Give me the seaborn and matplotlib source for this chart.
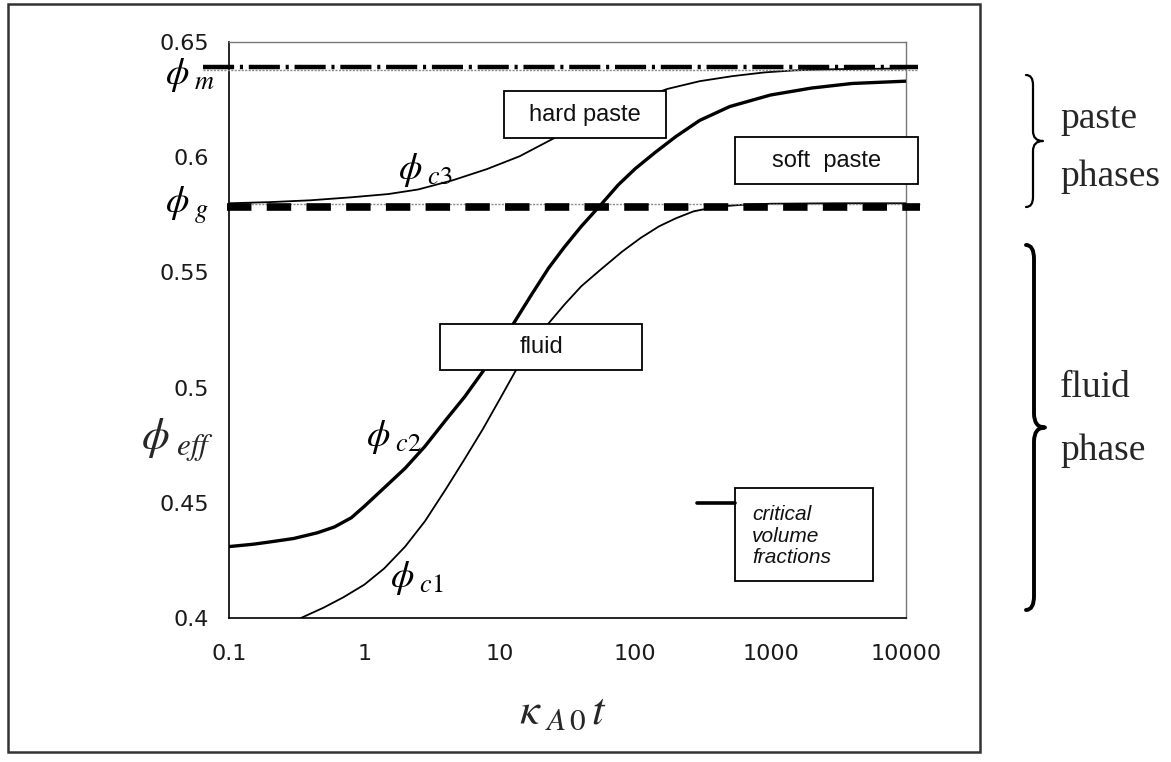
import numpy as np
import pandas as pd
import matplotlib
matplotlib.use("Agg")
import matplotlib.pyplot as plt
import seaborn as sns
from matplotlib.patches import Rectangle, PathPatch
from matplotlib.path import Path
from matplotlib.lines import Line2D

# ---------------- data ----------------
x_c1 = [0.34, 0.5, 0.7, 1, 1.4, 2, 2.8, 4, 5.5, 7.5, 10, 13, 17, 23, 30, 40, 55, 80,
        110, 150, 200, 270, 400, 600, 1000, 3000, 10000]
phi_c1 = [0.400, 0.4045, 0.409, 0.4145, 0.4215, 0.431, 0.442, 0.456, 0.469, 0.482,
          0.495, 0.507, 0.517, 0.528, 0.536, 0.544, 0.551, 0.559, 0.565, 0.570, 0.5735,
          0.5765, 0.5785, 0.5793, 0.5798, 0.580, 0.580]

x_c2 = [0.1, 0.15, 0.2, 0.3, 0.45, 0.6, 0.8, 1, 1.4, 2, 2.8, 4, 5.5, 7.5, 10, 13, 17,
        23, 30, 40, 57, 75, 100, 140, 200, 300, 500, 1000, 2000, 4000, 10000]
phi_c2 = [0.431, 0.432, 0.433, 0.4345, 0.437, 0.4395, 0.4435, 0.4485, 0.4565, 0.465,
          0.4745, 0.486, 0.496, 0.507, 0.518, 0.529, 0.540, 0.552, 0.561, 0.570, 0.580,
          0.588, 0.595, 0.602, 0.609, 0.616, 0.622, 0.627, 0.630, 0.632, 0.633]

x_c3 = [0.1, 0.2, 0.4, 0.8, 1.5, 2.5, 4.5, 8, 14, 26, 40, 60, 100, 172, 300, 525, 900,
        1500, 3000, 10000]
phi_c3 = [0.5800, 0.5805, 0.5813, 0.5826, 0.584, 0.586, 0.590, 0.5948, 0.6004, 0.6087,
          0.6135, 0.618, 0.6245, 0.6296, 0.6330, 0.6352, 0.6368, 0.6377, 0.6382, 0.6385]

phi_m = 0.638
phi_g = 0.579

x_ticks = [0.1, 1, 10, 100, 1000, 10000]
x_tick_labels = ["0.1", "1", "10", "100", "1000", "10000"]
y_ticks = [0.4, 0.45, 0.5, 0.55, 0.6, 0.65]
y_tick_labels = ["0.4", "0.45", "0.5", "0.55", "0.6", "0.65"]

region_labels = ["hard paste", "soft  paste", "fluid"]
legend_label = "critical\nvolume\nfractions"
side_labels = [("paste", "phases"), ("fluid", "phase")]

# ---------------- style ----------------
sns.set_theme(style="white")
plt.rcParams["font.family"] = ["Liberation Sans", "DejaVu Sans"]
plt.rcParams["mathtext.fontset"] = "stix"

W, H = 1171, 762
fig = plt.figure(figsize=(W / 100, H / 100), dpi=100)
fig.patch.set_facecolor("white")


def fx(px):
    return px / W


def fy(py):
    return 1 - py / H


ax = fig.add_axes([fx(229), fy(618), fx(906) - fx(229), fy(42) - fy(618)])
ax.set_facecolor("white")
ax.set_xscale("log")
ax.set_xlim(x_ticks[0], x_ticks[-1])
ax.set_ylim(y_ticks[0], y_ticks[-1])

# curves
df1 = pd.DataFrame({"t": x_c1, "phi": phi_c1})
df2 = pd.DataFrame({"t": x_c2, "phi": phi_c2})
df3 = pd.DataFrame({"t": x_c3, "phi": phi_c3})
sns.lineplot(data=df1, x="t", y="phi", ax=ax, color="black", lw=1.3,
             estimator=None, sort=False, zorder=3)
sns.lineplot(data=df3, x="t", y="phi", ax=ax, color="black", lw=1.3,
             estimator=None, sort=False, zorder=3)
sns.lineplot(data=df2, x="t", y="phi", ax=ax, color="black", lw=2.4,
             estimator=None, sort=False, zorder=3)

# critical volume fraction lines (extend slightly beyond the axes)
lx0, lx1 = ax.get_xlim()
m_ext = [lx0 * 10 ** -0.19, lx1 * 10 ** 0.09]
g_ext = [lx0 * 10 ** -0.015, lx1 * 10 ** 0.10]

sns.lineplot(x=m_ext, y=[phi_m, phi_m], ax=ax, color="#8a8a8a", lw=1.0, zorder=4)
ax.lines[-1].set_clip_on(False)
ax.lines[-1].set_linestyle((0, (1.5, 1.0)))
sns.lineplot(x=m_ext, y=[phi_m + 0.0012, phi_m + 0.0012], ax=ax, color="black", lw=3.2, zorder=4)
ax.lines[-1].set_clip_on(False)
ax.lines[-1].set_linestyle((0, (7.0, 1.3, 0.7, 1.3)))

sns.lineplot(x=g_ext, y=[phi_g + 0.0008, phi_g + 0.0008], ax=ax, color="#8a8a8a", lw=1.0, zorder=4)
ax.lines[-1].set_clip_on(False)
ax.lines[-1].set_linestyle((0, (1.5, 1.0)))
sns.lineplot(x=g_ext, y=[phi_g - 0.0004, phi_g - 0.0004], ax=ax, color="black", lw=5.5, zorder=4)
ax.lines[-1].set_clip_on(False)
ax.lines[-1].set_linestyle((0, (3.2, 2.0)))

# ticks and spines
ax.set_xticks(x_ticks)
ax.set_xticklabels(x_tick_labels)
ax.set_yticks(y_ticks)
ax.set_yticklabels(y_tick_labels)
ax.minorticks_off()
ax.tick_params(axis="both", which="major", direction="out", length=5.5, width=1.0,
               color="black", labelsize=16, labelcolor="#1a1a1a")
for lab in ax.get_xticklabels() + ax.get_yticklabels():
    lab.set_family(["DejaVu Sans"])
ax.tick_params(axis="y", pad=9)
ax.tick_params(axis="x", pad=13)
ax.set_xlabel("")
ax.set_ylabel("")
for s in ["left", "bottom"]:
    ax.spines[s].set_color("black")
    ax.spines[s].set_linewidth(1.2)
for s in ["top", "right"]:
    ax.spines[s].set_color("#777777")
    ax.spines[s].set_linewidth(1.0)
ax.grid(False)


# ---------------- text boxes ----------------
def box(x0, y0, x1, y1, text, size=17, style="normal"):
    r = Rectangle((fx(x0), fy(y1)), fx(x1) - fx(x0), fy(y0) - fy(y1),
                  transform=fig.transFigure, facecolor="white", edgecolor="black",
                  lw=1.3, zorder=6, clip_on=False)
    ax.add_patch(r)
    if text:
        ax.text(fx((x0 + x1) / 2), fy((y0 + y1) / 2), text, transform=fig.transFigure,
                ha="center", va="center", fontsize=size, zorder=7, color="#111111",
                fontstyle=style)


box(504, 91, 666, 138, region_labels[0])
box(735, 137, 918, 184, region_labels[1])
box(440, 324, 642, 370, region_labels[2])
box(735, 488, 873, 581, None)
ax.text(fx(752), fy(536), legend_label, transform=fig.transFigure, ha="left", va="center",
        fontsize=15, fontstyle="italic", linespacing=1.15, zorder=7, color="#111111")
ax.add_line(Line2D([fx(697), fx(735)], [fy(503), fy(503)], transform=fig.transFigure,
                   color="black", lw=2.6, zorder=7, clip_on=False))


# ---------------- phi labels ----------------
def phi_label(px, py, sub, size=27):
    fig.text(fx(px), fy(py), r"$\phi_{\ \mathit{%s}}$" % sub, ha="left", va="center",
             fontsize=size, color="black")


phi_label(165, 75, "m")
phi_label(165, 205, "g")
phi_label(398, 170, "c3")
phi_label(366, 437, "c2")
phi_label(390, 578, "c1")

# axis labels
fig.text(fx(178), fy(440), r"$\phi_{\ \mathit{eff}}$", ha="center", va="center", fontsize=32)
fig.text(fx(563), fy(712), r"$\kappa_{\ A\,0}\,t$", ha="center", va="center", fontsize=32)

# ---------------- outer frame ----------------
fig.add_artist(Rectangle((fx(8), fy(752)), fx(980) - fx(8), fy(4) - fy(752),
                         transform=fig.transFigure, fill=False, edgecolor="#333333", lw=1.8))


# ---------------- braces ----------------
def brace(x_hook, x_stem, x_tip, ytop, ybot, r, lw):
    ymid = (ytop + ybot) / 2
    P = [(x_hook, ytop), (x_stem, ytop), (x_stem, ytop + r),
         (x_stem, ymid - r),
         (x_stem, ymid), (x_tip, ymid),
         (x_stem, ymid), (x_stem, ymid + r),
         (x_stem, ybot - r),
         (x_stem, ybot), (x_hook, ybot)]
    C = [Path.MOVETO, Path.CURVE3, Path.CURVE3, Path.LINETO, Path.CURVE3, Path.CURVE3,
         Path.CURVE3, Path.CURVE3, Path.LINETO, Path.CURVE3, Path.CURVE3]
    verts = [(fx(a), fy(b)) for a, b in P]
    fig.add_artist(PathPatch(Path(verts, C), transform=fig.transFigure, fill=False,
                             edgecolor="black", lw=lw, capstyle="round", joinstyle="round"))


brace(1026, 1033, 1043, 75, 207, 10, 1.6)
brace(1026, 1034, 1045, 245, 610, 14, 2.8)

serif = ["Liberation Serif", "DejaVu Serif"]
fig.text(fx(1060), fy(128), side_labels[0][0], ha="left", va="baseline", fontsize=27, family=serif)
fig.text(fx(1060), fy(186), side_labels[0][1], ha="left", va="baseline", fontsize=27, family=serif)
fig.text(fx(1060), fy(397), side_labels[1][0], ha="left", va="baseline", fontsize=27, family=serif)
fig.text(fx(1060), fy(460), side_labels[1][1], ha="left", va="baseline", fontsize=27, family=serif)

fig.savefig("out.png", dpi=100, facecolor="white")
